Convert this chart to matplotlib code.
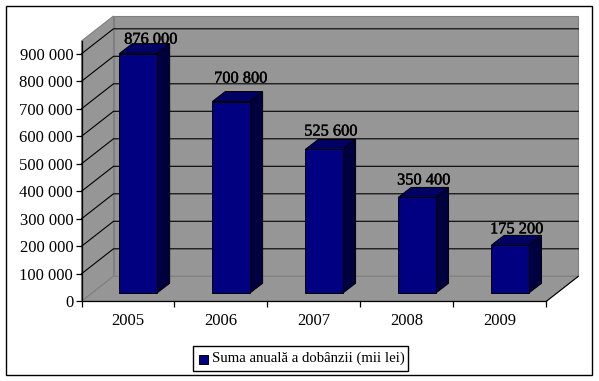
import matplotlib
matplotlib.use('Agg')
import matplotlib.pyplot as plt
import matplotlib.patheffects as pe
from matplotlib.patches import Polygon, Rectangle

W = 599
H = 381

years = ['2005', '2006', '2007', '2008', '2009']
values = [876000, 700800, 525600, 350400, 175200]
labels = ['876 000', '700 800', '525 600', '350 400', '175 200']
yticks = [0, 100000, 200000, 300000, 400000, 500000, 600000, 700000, 800000, 900000]
ytick_labels = ['0', '100 000', '200 000', '300 000', '400 000', '500 000',
                '600 000', '700 000', '800 000', '900 000']
legend_text = 'Suma anuală a dobânzii (mii lei)'

WALL = '#969696'
FRONT = '#000080'
TOP = '#000064'
SIDE = '#000040'

plt.rcParams['font.family'] = ['Liberation Serif', 'DejaVu Serif']

fig = plt.figure(figsize=(W / 100, H / 100), dpi=100)

# outer frame, pixel coordinates
bg = fig.add_axes([0, 0, 1, 1])
bg.set_xlim(0, W)
bg.set_ylim(H, 0)
bg.axis('off')
bg.add_patch(Rectangle((5.5, 5.5), 586.5, 369.5, fc='white', ec='black', lw=1))

# front plane of the 3d box
left, right, bottom, top = 81.5, 546.3, 301.3, 41
ax = fig.add_axes([left / W, 1 - bottom / H, (right - left) / W, (bottom - top) / H])
ymax = (bottom - top) / 27.5 * 100000
ax.set_xlim(0, 5)
ax.set_ylim(0, ymax)
ax.patch.set_alpha(0)
px = 5 / (right - left)
py = ymax / (bottom - top)

# depth of the box
bx, by = 32 * px, 25 * py
wall_kw = dict(fc=WALL, ec='#808080', lw=0.8, clip_on=False, zorder=1)
ax.add_patch(Polygon([(bx, by), (5 + bx, by), (5 + bx, ymax + by), (bx, ymax + by)], **wall_kw))
ax.add_patch(Polygon([(0, 0), (bx, by), (bx, ymax + by), (0, ymax)], **wall_kw))
ax.add_patch(Polygon([(0, 0), (5, 0), (5 + bx, by), (bx, by)], **wall_kw))
ax.plot([5, 5 + bx], [0, by], color='black', lw=0.8, clip_on=False, zorder=2)

for t in yticks[1:]:
    ax.plot([0, bx, 5 + bx], [t, t + by, t + by], color='black', lw=0.8, clip_on=False, zorder=2)

# bars
bw = 0.402
off_x, off_y = 10 * px, 8 * py
dx, dy = 13 * px, 10 * py
# label placement differs per bar in the original, pixels
label_dx = [13, 10, 7, 7, 7]
label_lift = [4, 13, 8, 7, 6]
halo = [pe.withStroke(linewidth=0.3, foreground='black')]
for i, v in enumerate(values):
    x0 = i + 0.5 - bw / 2 + off_x
    x1 = x0 + bw
    y0 = off_y
    y1 = off_y + v * 0.995
    ec = dict(ec='black', lw=0.7, clip_on=False, zorder=3)
    ax.add_patch(Polygon([(x1, y0), (x1 + dx, y0 + dy), (x1 + dx, y1 + dy), (x1, y1)], fc=SIDE, **ec))
    ax.add_patch(Polygon([(x0, y1), (x1, y1), (x1 + dx, y1 + dy), (x0 + dx, y1 + dy)], fc=TOP, **ec))
    ax.add_patch(Polygon([(x0, y0), (x1, y0), (x1, y1), (x0, y1)], fc=FRONT, **ec))
    ax.text(i + 0.5 + off_x + label_dx[i] * px, y1 + dy + label_lift[i] * py, labels[i],
            ha='center', va='center', fontsize=11.8, color='black', zorder=4, clip_on=False,
            path_effects=halo)

ax.set_xticks([0, 1, 2, 3, 4, 5])
ax.set_xticklabels([])
for i, y in enumerate(years):
    ax.text(i + 0.5, -19.5 * py, y, ha='center', va='center', fontsize=12)
ax.set_yticks(yticks)
ax.set_yticklabels(ytick_labels, fontsize=12)
ax.tick_params(axis='both', length=4, width=0.9, color='black', pad=2)
for s in ['top', 'right']:
    ax.spines[s].set_visible(False)
for s in ['left', 'bottom']:
    ax.spines[s].set_linewidth(0.9)
    ax.spines[s].set_zorder(5)

# legend box
bg.add_patch(Rectangle((192.5, 345.5), 215, 25.5, fc='white', ec='black', lw=1))
bg.add_patch(Rectangle((198.5, 354.5), 9.5, 9.5, fc=FRONT, ec='black', lw=0.7))
bg.text(212, 358.5, legend_text, ha='left', va='center', fontsize=10.6)

fig.savefig('out.png', dpi=100)
